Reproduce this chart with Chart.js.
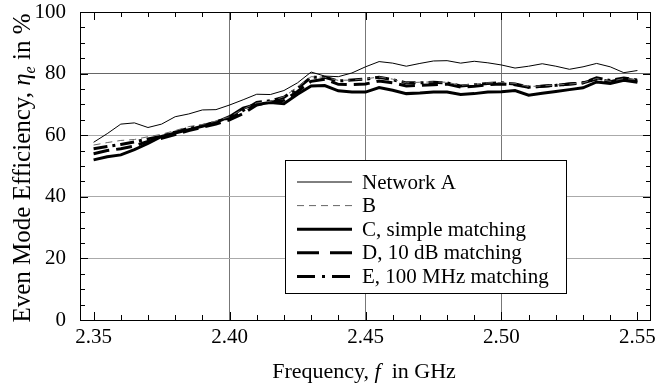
<!DOCTYPE html>
<html>
<head>
<meta charset="utf-8">
<script src="https://cdn.jsdelivr.net/npm/chart.js@4"></script>
<style>
html, body { margin: 0; padding: 0; background: #fff; }
</style>
</head>
<body>
<canvas id="grafico" width="656" height="387"></canvas>
<script>
// =========================================
// DADOS DO GRÁFICO
// =========================================
const frequencias = [
    2.350, 2.355, 2.360, 2.365, 2.370, 2.375, 2.380, 2.385, 2.390, 2.395,
    2.400, 2.405, 2.410, 2.415, 2.420, 2.425, 2.430, 2.435, 2.440, 2.445,
    2.450, 2.455, 2.460, 2.465, 2.470, 2.475, 2.480, 2.485, 2.490, 2.495,
    2.500, 2.505, 2.510, 2.515, 2.520, 2.525, 2.530, 2.535, 2.540, 2.545, 2.550
];
const redeA = [
    57.7, 60.5, 63.6, 64.0, 62.5, 63.6, 66.0, 66.9, 68.2, 68.3,
    69.8, 71.5, 73.3, 73.2, 74.5, 77.0, 80.5, 79.2, 79.0, 80.2,
    82.2, 83.9, 83.4, 82.4, 83.3, 84.1, 84.2, 83.4, 84.0, 83.5,
    82.8, 81.8, 82.4, 83.2, 82.4, 81.4, 82.2, 83.3, 82.2, 80.3, 81.0
];
const redeB = [
    56.8, 57.6, 58.3, 58.6, 59.5, 60.3, 61.5, 62.8, 63.5, 64.6,
    66.0, 68.5, 70.5, 71.0, 72.5, 75.6, 79.0, 78.8, 77.8, 77.9,
    78.3, 78.9, 78.2, 77.0, 77.2, 77.3, 77.2, 76.2, 76.6, 77.0,
    77.1, 76.8, 75.8, 76.0, 76.3, 76.6, 77.0, 78.4, 77.5, 78.4, 78.0
];
const redeC = [
    52.0, 53.0, 53.6, 55.3, 57.3, 59.6, 60.7, 61.8, 62.9, 64.2,
    66.0, 68.8, 70.0, 70.6, 70.2, 73.3, 76.0, 76.1, 74.4, 74.0,
    74.0, 75.5, 74.6, 73.5, 73.7, 74.0, 74.0, 73.2, 73.5, 74.0,
    74.1, 74.5, 73.0, 73.6, 74.2, 74.8, 75.4, 77.3, 76.8, 77.8, 77.2
];
const redeD = [
    54.0, 55.0, 55.6, 56.5, 58.0, 59.0, 60.2, 61.5, 62.6, 63.6,
    65.0, 67.0, 69.8, 70.8, 71.3, 74.2, 77.5, 78.2, 76.5, 76.4,
    76.6, 77.6, 77.0, 76.0, 76.2, 76.4, 76.6, 75.6, 75.9, 76.4,
    76.6, 76.4, 75.6, 75.9, 76.2, 76.6, 77.0, 78.2, 77.4, 78.3, 77.6
];
const redeE = [
    55.6, 56.3, 57.0, 57.8, 58.8, 59.7, 61.0, 62.3, 63.1, 64.3,
    65.7, 68.0, 70.6, 71.2, 72.3, 75.2, 78.8, 78.8, 77.6, 77.9,
    78.2, 78.8, 78.0, 77.0, 77.0, 77.2, 77.0, 76.0, 76.4, 76.8,
    77.0, 76.6, 75.6, 75.9, 76.2, 76.6, 77.0, 78.6, 77.8, 78.6, 77.9
];

// Marcas dos eixos
const ticksX = [2.35, 2.40, 2.45, 2.50, 2.55];
const ticksY = [0, 20, 40, 60, 80, 100];
const rotulosLegenda = ["Network A", "B", "C, simple matching", "D, 10 dB matching", "E, 100 MHz matching"];

const FONTE = "'Liberation Serif', 'DejaVu Serif', serif";

// Monta os pares {x, y} a partir dos vetores
function pares(valores) {
    return frequencias.map((f, i) => ({ x: f, y: valores[i] }));
}

// =========================================
// PLUGIN: MOLDURA, MARCAS INTERNAS, TÍTULOS E LEGENDA
// =========================================
const decoracao = {
    id: "decoracao",
    afterDraw(chart) {
        const ctx = chart.ctx;
        const area = chart.chartArea;
        const sx = chart.scales.x;
        const sy = chart.scales.y;

        ctx.save();

        // Marcas internas (maiores e menores)
        ctx.strokeStyle = "#000";
        ctx.lineWidth = 1;
        ctx.beginPath();
        for (let k = 0; k <= 20; k++) {
            const v = 2.35 + k * 0.01;
            const px = Math.round(sx.getPixelForValue(v)) + 0.5;
            const len = (k % 5 === 0) ? 8 : 5;
            ctx.moveTo(px, area.bottom); ctx.lineTo(px, area.bottom - len);
            ctx.moveTo(px, area.top); ctx.lineTo(px, area.top + len);
        }
        for (let k = 0; k <= 20; k++) {
            const v = k * 5;
            const py = Math.round(sy.getPixelForValue(v)) + 0.5;
            const len = (k % 4 === 0) ? 8 : 5;
            ctx.moveTo(area.left, py); ctx.lineTo(area.left + len, py);
            ctx.moveTo(area.right, py); ctx.lineTo(area.right - len, py);
        }
        ctx.stroke();

        // Moldura
        ctx.strokeRect(Math.round(area.left) + 0.5, Math.round(area.top) + 0.5,
            Math.round(area.right - area.left) - 1, Math.round(area.bottom - area.top));

        // Título do eixo X
        ctx.fillStyle = "#000";
        const partesX = [
            ["Frequency, ", "normal", 22],
            ["f", "italic", 22],
            ["  in GHz", "normal", 22]
        ];
        desenharPartes(ctx, partesX, 364, 378);

        // Título do eixo Y (rotacionado)
        ctx.save();
        ctx.translate(30, 168);
        ctx.rotate(-Math.PI / 2);
        const partesY = [
            ["Even Mode Efficiency, ", "normal", 25],
            ["\u03b7", "italic", 25],
            ["e", "italic", 16, 5],
            [" in %", "normal", 25]
        ];
        desenharPartes(ctx, partesY, 0, 0);
        ctx.restore();

        // Legenda
        const bx = 285.5, by = 160.5, bw = 281, bh = 133;
        ctx.fillStyle = "#fff";
        ctx.fillRect(bx, by, bw, bh);
        ctx.strokeStyle = "#000";
        ctx.lineWidth = 1;
        ctx.strokeRect(bx, by, bw, bh);

        chart.data.datasets.forEach((ds, i) => {
            const y = 182 + i * 23.6;
            ctx.save();
            ctx.strokeStyle = ds.borderColor;
            ctx.lineWidth = ds.borderWidth;
            ctx.setLineDash(ds.legendaDash || ds.borderDash || []);
            ctx.beginPath();
            ctx.moveTo(297, y);
            ctx.lineTo(352, y);
            ctx.stroke();
            ctx.restore();

            ctx.fillStyle = "#000";
            ctx.font = "21px " + FONTE;
            ctx.textAlign = "left";
            ctx.textBaseline = "middle";
            ctx.fillText(rotulosLegenda[i], 362, y + 1);
        });

        ctx.restore();
    }
};

// Desenha um texto em partes (normal / itálico / subscrito) centrado em cx
function desenharPartes(ctx, partes, cx, cy) {
    let total = 0;
    partes.forEach(p => {
        ctx.font = p[1] + " " + p[2] + "px " + FONTE;
        total += ctx.measureText(p[0]).width;
    });
    let x = cx - total / 2;
    ctx.textAlign = "left";
    ctx.textBaseline = "alphabetic";
    partes.forEach(p => {
        ctx.font = p[1] + " " + p[2] + "px " + FONTE;
        ctx.fillText(p[0], x, cy + (p[3] || 0));
        x += ctx.measureText(p[0]).width;
    });
}

// =========================================
// CRIAÇÃO DO GRÁFICO
// =========================================
window.addEventListener("DOMContentLoaded", () => {
    const el = document.getElementById("grafico");

    new Chart(el, {
        type: "line",
        data: {
            datasets: [
                { label: rotulosLegenda[0], data: pares(redeA), borderColor: "#000", borderWidth: 1 },
                { label: rotulosLegenda[1], data: pares(redeB), borderColor: "#666", borderWidth: 1, borderDash: [7, 5] },
                { label: rotulosLegenda[2], data: pares(redeC), borderColor: "#000", borderWidth: 3 },
                { label: rotulosLegenda[3], data: pares(redeD), borderColor: "#000", borderWidth: 3, borderDash: [16, 7], legendaDash: [22, 11] },
                { label: rotulosLegenda[4], data: pares(redeE), borderColor: "#000", borderWidth: 3, borderDash: [14, 5, 3, 5], legendaDash: [18, 7, 3, 7] }
            ]
        },
        options: {
            responsive: false,
            animation: false,
            devicePixelRatio: 1,
            elements: {
                point: { radius: 0 },
                line: { tension: 0, fill: false }
            },
            layout: { padding: { top: 12, right: 5, left: 0, bottom: 0 } },
            plugins: {
                legend: { display: false },
                tooltip: { enabled: false }
            },
            scales: {
                x: {
                    type: "linear",
                    min: 2.345,
                    max: 2.555,
                    afterBuildTicks: (s) => { s.ticks = ticksX.map(v => ({ value: v })); },
                    afterFit: (s) => { s.height = 67; s.paddingLeft = 0; s.paddingRight = 0; },
                    ticks: {
                        callback: (v) => Number(v).toFixed(2),
                        color: "#000",
                        font: { family: FONTE, size: 21 },
                        padding: 5,
                        maxRotation: 0
                    },
                    grid: {
                        drawTicks: false,
                        color: (c) => (c.index > 0 && c.index < ticksX.length - 1) ? "#777" : "rgba(0,0,0,0)"
                    },
                    border: { display: false }
                },
                y: {
                    min: 0,
                    max: 100,
                    afterBuildTicks: (s) => { s.ticks = ticksY.map(v => ({ value: v })); },
                    afterFit: (s) => { s.width = 80; s.paddingTop = 0; s.paddingBottom = 0; },
                    ticks: {
                        color: "#000",
                        font: { family: FONTE, size: 21 },
                        padding: 14
                    },
                    grid: {
                        drawTicks: false,
                        color: (c) => {
                            const v = c.tick.value;
                            if (v === 0 || v === 100) return "rgba(0,0,0,0)";
                            return v === 80 ? "#666" : "#aaa";
                        }
                    },
                    border: { display: false }
                }
            }
        },
        plugins: [decoracao]
    });
});
</script>
</body>
</html>
